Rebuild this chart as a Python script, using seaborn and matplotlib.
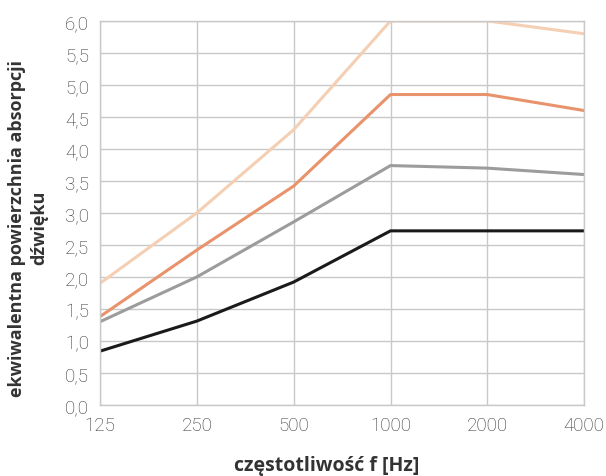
import matplotlib
matplotlib.use("Agg")
import matplotlib.pyplot as plt
import seaborn as sns
import pandas as pd
import numpy as np

freqs = [125, 250, 500, 1000, 2000, 4000]
freq_labels = ["125", "250", "500", "1000", "2000", "4000"]
s_light = [1.9, 3.0, 4.3, 6.0, 6.0, 5.8]
s_orange = [1.38, 2.42, 3.42, 4.85, 4.85, 4.6]
s_gray = [1.3, 2.0, 2.86, 3.74, 3.7, 3.6]
s_black = [0.84, 1.31, 1.92, 2.72, 2.72, 2.72]
series_names = ["A", "B", "C", "D"]
colors = ["#f5cfb3", "#e8936b", "#9c9c9c", "#1a1a1a"]
yticks = [0.0, 0.5, 1.0, 1.5, 2.0, 2.5, 3.0, 3.5, 4.0, 4.5, 5.0, 5.5, 6.0]

rows = []
for name, vals in zip(series_names, [s_light, s_orange, s_gray, s_black]):
    for f, v in zip(freqs, vals):
        rows.append({"f": f, "v": v, "s": name})
df = pd.DataFrame(rows)

sns.set_style("white")
plt.rcParams['font.family'] = ['Roboto', 'DejaVu Sans']

fig = plt.figure(figsize=(6.06, 4.77), dpi=100)
ax = fig.add_axes([0.165, 0.149, 0.799, 0.805])
sns.lineplot(data=df, x="f", y="v", hue="s", palette=colors, linewidth=2.2,
             legend=False, ax=ax)
ax.set_xscale("log", base=2)
ax.set_xlim(125, 4000)
ax.set_ylim(0, 6.0)
ax.set_xticks(freqs)
ax.set_xticklabels(freq_labels)
ax.xaxis.set_minor_locator(matplotlib.ticker.NullLocator())
ax.set_yticks(yticks)
ax.set_yticklabels([f"{t:.1f}".replace(".", ",") for t in yticks])
ax.grid(True, color="#c8c8c8", linewidth=1.0)
ax.set_axisbelow(True)
for sp in ax.spines.values():
    sp.set_color("#c8c8c8")
    sp.set_linewidth(1.0)
ax.tick_params(axis="both", length=0, labelsize=13.5, colors="#333333", pad=8)
for lab in ax.get_xticklabels() + ax.get_yticklabels():
    lab.set_fontweight("light")
ax.set_xlabel("częstotliwość f [Hz]", fontsize=14, fontweight="bold", color="#333333",
              family=["Open Sans", "DejaVu Sans"])
ax.xaxis.set_label_coords(0.469, -0.13)
ax.set_ylabel("ekwiwalentna powierzchnia absorpcji\ndźwięku", fontsize=13, fontweight="bold",
              color="#333333", linespacing=1.3, family=["Open Sans", "DejaVu Sans"])
ax.yaxis.set_label_coords(-0.107, 0.463)
fig.savefig("out.png", dpi=100)
